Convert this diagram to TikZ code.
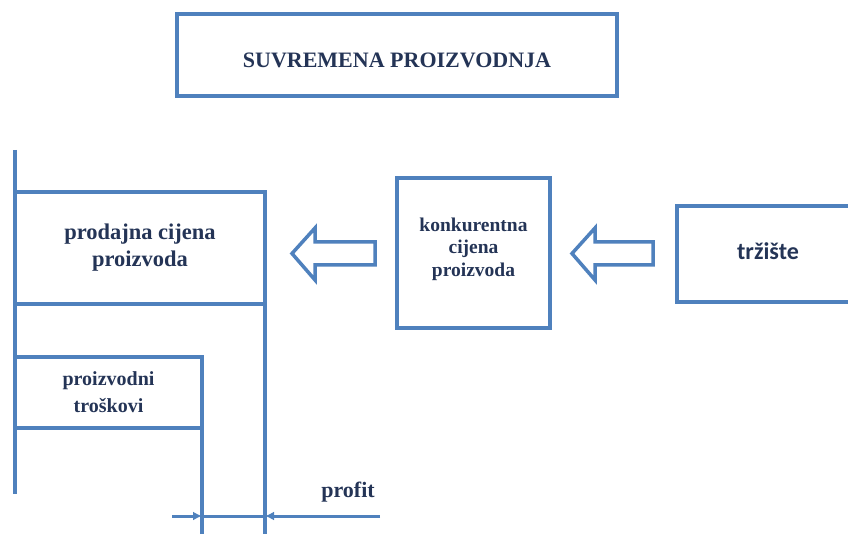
\documentclass[tikz,border=0pt]{standalone}
\usepackage{fontspec}
\setmainfont{Liberation Serif}
\newfontfamily\calfont{Carlito}
\usetikzlibrary{arrows.meta}
\definecolor{lineblue}{RGB}{79,129,189}
\definecolor{txtblue}{RGB}{36,52,86}
\tikzset{
  bx/.style={draw=lineblue, line width=3.5pt, minimum width=#1, inner sep=0pt, outer sep=0pt, align=center, text=txtblue, font=\bfseries\fontsize{21}{27}\selectfont},
  ln/.style={draw=lineblue, line width=3.5pt},
  txt/.style={text=txtblue, align=center, inner sep=0pt},
  blockarrow/.style={draw=lineblue, line width=3.5pt, fill=white, line join=miter},
  dim/.style={draw=lineblue, line width=3pt, -{Latex[length=9pt,width=9pt]}}
}
\begin{document}
\begin{tikzpicture}[x=1pt,y=-1pt]
\useasboundingbox (0,0) rectangle (848,534);
% title
\node[bx=440pt, minimum height=82pt] (title) at (397,55) {};
\node[txt, font=\bfseries\fontsize{22}{24}\selectfont] (titletxt) at (397,60) {SUVREMENA PROIZVODNJA};
% prodajna cijena box
\node[bx=250pt, minimum height=112pt, font=\bfseries\fontsize{22.5}{27}\selectfont] (prod) at (140,248) {prodajna cijena\\proizvoda};
\coordinate (ltop) at (15,150);
\coordinate (lbot) at (15,494);
\draw[ln] (ltop) -- (lbot);
% proizvodni troskovi box
\node[bx=187pt, minimum height=71pt, font=\bfseries\fontsize{20}{27}\selectfont] (tros) at (108.5,392.5) {proizvodni\\troškovi};
\coordinate (rA) at (202,534);
\coordinate (rB) at (265,534);
\draw[ln] (tros.south east) -- (rA);
\draw[ln] (prod.south east) -- (rB);
% konkurentna cijena
\node[bx=153pt, minimum height=150pt] (konk) at (473.5,253) {};
\node[txt, font=\bfseries\fontsize{19.5}{22.5}\selectfont] (konktxt) at (473.5,249) {konkurentna\\cijena\\proizvoda};
% trziste
\node[bx=180pt, minimum height=96pt, anchor=west] (trz) at (677,254) {};
\node[txt, font=\calfont\bfseries\fontsize{24}{26}\selectfont] (trztxt) at (768,251) {tržište};
% block arrows
\draw[blockarrow] (375,242) -- (315,242) -- (315,228) -- (292,253.5) -- (315,280) -- (315,265) -- (375,265) -- cycle;
\draw[blockarrow] (653,242) -- (595,242) -- (595,228) -- (572,253.5) -- (595,280) -- (595,265) -- (653,265) -- cycle;
% profit dimension
\coordinate (d1) at (172,516);
\coordinate (d2) at (380,516);
\coordinate (t1) at (202,516);
\coordinate (t2) at (265,516);
\draw[ln, line width=3pt] (t1) -- (t2);
\draw[dim] (d1) -- (t1);
\draw[dim] (d2) -- (t2);
\node[txt, font=\bfseries\fontsize{22}{24}\selectfont] (profit) at (348,492) {profit};
\end{tikzpicture}
\end{document}
